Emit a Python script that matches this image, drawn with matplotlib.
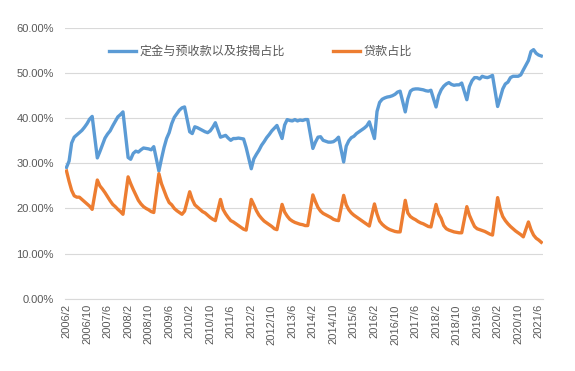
import matplotlib.pyplot as plt
from matplotlib.ticker import PercentFormatter

plt.rcParams['font.family'] = ['Liberation Sans', 'Noto Sans CJK SC', 'DejaVu Sans']

# Feb..Dec of each year (January not reported), 2021 up to July
years = list(range(2006, 2022))

deposit_share = [
    [29.1, 30.5, 34.5, 35.8, 36.3, 36.8, 37.3, 38.0, 38.8, 39.8, 40.4],  # 2006
    [31.2, 32.6, 34.1, 35.6, 36.5, 37.2, 38.3, 39.3, 40.3, 40.8, 41.4],  # 2007
    [31.3, 30.9, 32.2, 32.7, 32.5, 33.0, 33.4, 33.3, 33.2, 33.0, 33.7],  # 2008
    [28.3, 31.0, 33.5, 35.5, 36.8, 38.8, 40.2, 41.0, 41.8, 42.3, 42.5],  # 2009
    [37.0, 36.6, 38.1, 37.9, 37.6, 37.3, 37.0, 36.8, 37.2, 38.0, 39.0],  # 2010
    [35.8, 36.0, 36.2, 35.6, 35.1, 35.5, 35.5, 35.6, 35.5, 35.4, 33.5],  # 2011
    [28.8, 31.0, 32.0, 32.9, 34.0, 34.8, 35.7, 36.4, 37.2, 37.8, 38.4],  # 2012
    [35.5, 38.5, 39.7, 39.5, 39.4, 39.7, 39.4, 39.6, 39.5, 39.7, 39.7],  # 2013
    [33.3, 34.7, 35.8, 35.9, 35.1, 34.9, 34.7, 34.7, 34.8, 35.2, 35.8],  # 2014
    [30.3, 33.8, 35.0, 35.7, 36.0, 36.6, 37.0, 37.4, 37.8, 38.3, 39.2],  # 2015
    [35.5, 41.5, 43.5, 44.2, 44.5, 44.7, 44.8, 45.0, 45.3, 45.8, 46.0],  # 2016
    [41.4, 44.3, 46.0, 46.4, 46.5, 46.5, 46.4, 46.3, 46.1, 46.0, 46.2],  # 2017
    [42.5, 45.0, 46.3, 47.1, 47.6, 47.9, 47.5, 47.3, 47.4, 47.4, 47.8],  # 2018
    [44.1, 47.0, 48.3, 49.0, 49.0, 48.7, 49.3, 49.1, 49.0, 49.2, 49.5],  # 2019
    [42.6, 44.5, 46.5, 47.6, 48.0, 49.0, 49.3, 49.3, 49.3, 49.6, 50.7],  # 2020
    [52.8, 54.8, 55.2, 54.4, 54.0, 53.8],                                # 2021
]

loan_share = [
    [28.3, 26.0, 24.0, 22.8, 22.5, 22.5, 22.0, 21.5, 21.0, 20.5, 19.8],  # 2006
    [26.3, 25.0, 24.3, 23.5, 22.6, 21.7, 20.9, 20.4, 19.8, 19.3, 18.7],  # 2007
    [27.0, 25.5, 24.2, 23.0, 21.8, 21.0, 20.4, 20.0, 19.7, 19.3, 19.1],  # 2008
    [27.7, 25.5, 24.0, 22.5, 21.3, 20.8, 20.0, 19.5, 19.1, 18.7, 19.4],  # 2009
    [23.7, 22.0, 20.8, 20.3, 19.8, 19.3, 19.0, 18.5, 18.0, 17.6, 17.3],  # 2010
    [22.0, 19.8, 18.8, 18.0, 17.3, 17.0, 16.6, 16.2, 15.8, 15.4, 15.2],  # 2011
    [22.0, 20.8, 19.5, 18.5, 17.8, 17.2, 16.8, 16.4, 16.0, 15.5, 15.3],  # 2012
    [20.9, 19.2, 18.3, 17.6, 17.2, 16.9, 16.7, 16.5, 16.4, 16.2, 16.2],  # 2013
    [23.0, 21.5, 20.2, 19.4, 18.9, 18.6, 18.3, 18.0, 17.6, 17.4, 17.3],  # 2014
    [22.9, 20.8, 19.7, 19.0, 18.5, 18.1, 17.7, 17.3, 16.9, 16.5, 16.1],  # 2015
    [21.0, 18.8, 17.2, 16.5, 16.0, 15.6, 15.3, 15.1, 14.9, 14.8, 14.8],  # 2016
    [21.8, 19.0, 18.2, 17.8, 17.5, 17.1, 16.8, 16.6, 16.3, 16.0, 15.9],  # 2017
    [20.9, 18.8, 17.8, 16.2, 15.5, 15.2, 15.0, 14.8, 14.7, 14.6, 14.6],  # 2018
    [20.4, 18.5, 17.2, 16.0, 15.5, 15.3, 15.1, 14.9, 14.6, 14.3, 14.1],  # 2019
    [22.4, 19.8, 18.2, 17.3, 16.6, 16.0, 15.5, 15.0, 14.6, 14.2, 13.7],  # 2020
    [17.0, 15.3, 14.1, 13.4, 13.0, 12.5],                                # 2021
]

label_blue = '定金与预收款以及按揭占比'
label_orange = '贷款占比'

# month index counted from 2006/2
def month_positions(table):
    pos, val = [], []
    for y, row in zip(years, table):
        for k, v in enumerate(row):
            pos.append((y - 2006) * 12 + k)  # k=0 -> Feb
            val.append(v)
    return pos, val

xb, yb = month_positions(deposit_share)
xo, yo = month_positions(loan_share)

fig = plt.figure(figsize=(5.75, 3.71), dpi=100)
ax = fig.add_axes([0.113, 0.195, 0.831, 0.7295])

ax.plot(xb, yb, color='#5B9BD5', lw=2.4, label=label_blue, solid_joinstyle='round')
ax.plot(xo, yo, color='#ED7D31', lw=2.4, label=label_orange, solid_joinstyle='round')

ax.set_ylim(0, 60)
ax.set_yticks(range(0, 61, 10))
ax.yaxis.set_major_formatter(PercentFormatter(decimals=2))
ax.set_xlim(-0.6, 185.6)

ticks = list(range(0, 185, 8))
labels = []
for t in ticks:
    y, m = divmod(t + 1, 12)
    labels.append(f'{2006 + y}/{m + 1}')
ax.set_xticks(ticks)
ax.set_xticklabels(labels, rotation=90)

ax.tick_params(axis='both', length=0, labelsize=8, colors='#595959')
ax.tick_params(axis='y', pad=8)
ax.tick_params(axis='x', pad=4)
ax.grid(axis='y', color='#D9D9D9', lw=0.8)
ax.set_axisbelow(True)
for s in ['top', 'right', 'left']:
    ax.spines[s].set_visible(False)
ax.spines['bottom'].set_color('#D9D9D9')
ax.spines['bottom'].set_linewidth(0.8)

leg = ax.legend(loc='center', bbox_to_anchor=(0.409, 0.911), ncol=2, frameon=False,
                fontsize=8.7, handlelength=2.2, handletextpad=0.3, columnspacing=4.0)
for t in leg.get_texts():
    t.set_color('#595959')

fig.savefig('out.png', dpi=100)
